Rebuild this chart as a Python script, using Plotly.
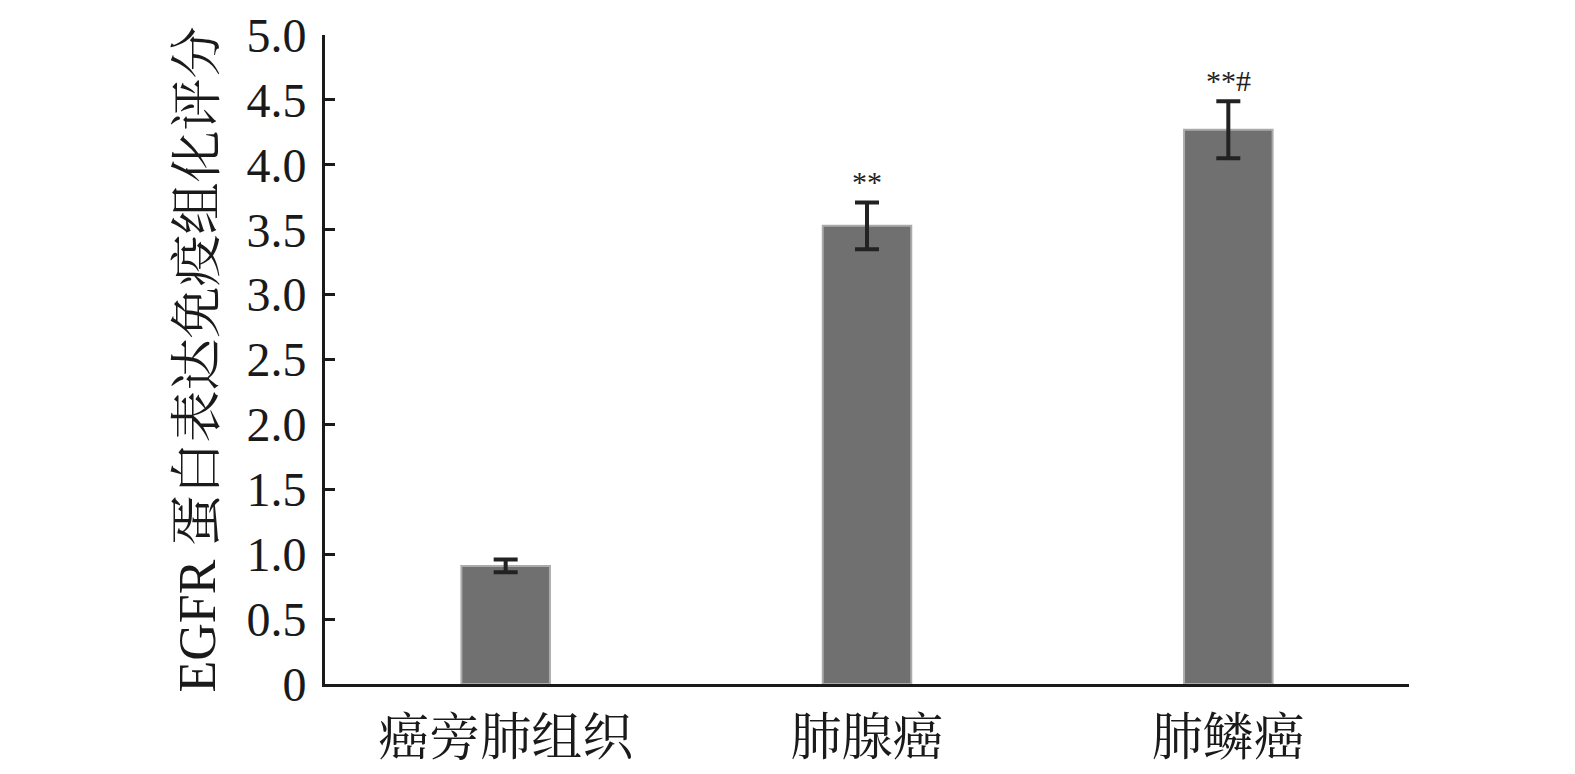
import plotly.graph_objects as go

categories = ["癌旁肺组织", "肺腺癌", "肺鳞癌"]
values = [0.91, 3.53, 4.27]
errors = [0.05, 0.18, 0.22]
marks = ["", "**", "**#"]
y_ticks = [0, 0.5, 1.0, 1.5, 2.0, 2.5, 3.0, 3.5, 4.0, 4.5, 5.0]
y_tick_text = ["0", "0.5", "1.0", "1.5", "2.0", "2.5", "3.0", "3.5", "4.0", "4.5", "5.0"]

FONT = "Liberation Serif, Noto Serif CJK SC, Noto Sans CJK SC, serif"

fig = go.Figure()
fig.add_trace(go.Bar(
    x=categories, y=values, width=0.245,
    marker=dict(color="#707070", line=dict(color="#ababab", width=2)),
    error_y=dict(type="data", array=errors, visible=True, color="#222222", thickness=4, width=12),
))

for c, v, e, m in zip(categories, values, errors, marks):
    if m:
        fig.add_annotation(x=c, y=v + e, text=m, showarrow=False, yanchor="bottom", yshift=2,
                           font=dict(family=FONT, size=30, color="#222222"))

fig.update_layout(
    width=1567, height=766,
    margin=dict(l=317, r=166, t=27, b=90),
    plot_bgcolor="white", paper_bgcolor="white",
    showlegend=False,
    font=dict(family=FONT, color="#1a1a1a"),
    xaxis=dict(showline=True, linecolor="#1a1a1a", linewidth=3, ticks="", automargin=False,
               tickfont=dict(size=51), ticklabelstandoff=7),
    yaxis=dict(range=[0, 5.0], tickvals=y_ticks, ticktext=y_tick_text, showline=True,
               linecolor="#1a1a1a", linewidth=3, ticks="inside", ticklen=10, tickwidth=3,
               tickcolor="#1a1a1a", showgrid=False, zeroline=False, automargin=False,
               tickfont=dict(size=48), ticklabelstandoff=6,
               title=dict(text="EGFR 蛋白表达免疫组化评分", font=dict(size=52), standoff=15)),
)

fig.write_html("out.html")
